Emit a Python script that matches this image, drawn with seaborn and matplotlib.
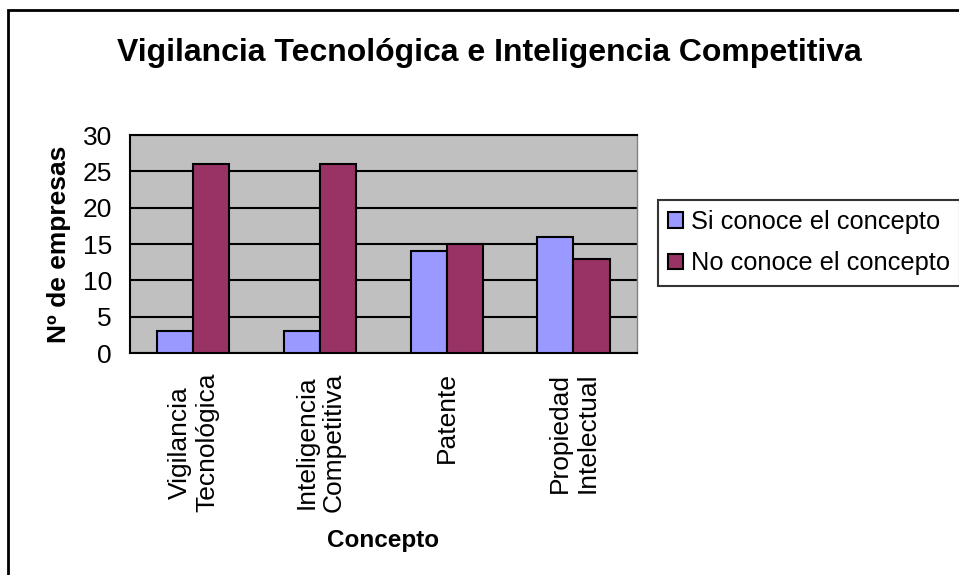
import pandas as pd
import seaborn as sns
import matplotlib.pyplot as plt
from matplotlib.patches import Rectangle

# Data
conceptos = ['Vigilancia\nTecnológica', 'Inteligencia\nCompetitiva', 'Patente', 'Propiedad\nIntelectual']
si_conoce = [3, 3, 14, 16]
no_conoce = [26, 26, 15, 13]
series = ['Si conoce el concepto', 'No conoce el concepto']
colores = ['#9999FF', '#993366']
y_ticks = [0, 5, 10, 15, 20, 25, 30]

sns.set_style('white')
plt.rcParams['font.family'] = ['Liberation Sans', 'DejaVu Sans']
plt.rcParams.update({'text.color': 'black', 'axes.labelcolor': 'black',
                     'xtick.color': 'black', 'ytick.color': 'black'})

# long-form table for seaborn
df = pd.DataFrame({
    'Concepto': conceptos * 2,
    'valor': si_conoce + no_conoce,
    'serie': [series[0]] * len(conceptos) + [series[1]] * len(conceptos),
})

fig = plt.figure(figsize=(9.59, 5.75), dpi=100)
ax = fig.add_axes([0.1356, 0.386, 0.664 - 0.1356, 0.765 - 0.386])
ax.set_facecolor('#C0C0C0')

sns.barplot(data=df, x='Concepto', y='valor', hue='serie', palette=colores, saturation=1,
            width=0.57, edgecolor='black', linewidth=1.5, gap=0, ax=ax, zorder=3)

ax.set_ylim(0, 30)
ax.set_xlim(-0.5, len(conceptos) - 0.5)
ax.set_yticks(y_ticks)
ax.yaxis.grid(True, color='black', linewidth=1.5, zorder=0)
ax.set_axisbelow(True)

# ticks at category boundaries, labels at category centres
ax.set_xticks([i - 0.5 for i in range(len(conceptos) + 1)])
ax.set_xticklabels([])
ax.set_xticks(range(len(conceptos)), minor=True)
ax.set_xticklabels(conceptos, minor=True, rotation=90, fontsize=19,
                   va='top', ha='center', multialignment='center')
ax.tick_params(axis='x', which='minor', length=0, pad=14)
ax.tick_params(axis='x', which='major', direction='out', length=7, width=1.5, color='black')
ax.tick_params(axis='y', direction='out', length=7, width=1.5, color='black',
               labelsize=19, pad=6)

for side in ['left', 'bottom', 'top']:
    ax.spines[side].set_color('black')
    ax.spines[side].set_linewidth(1.5)
ax.spines['right'].set_color('#808080')
ax.spines['right'].set_linewidth(1.0)

ax.set_xlabel('Concepto', fontsize=17.5, fontweight='bold', labelpad=12)
ax.set_ylabel('Nº de empresas', fontsize=19, fontweight='bold', labelpad=8)

ax.legend_.remove()
handles, labels = ax.get_legend_handles_labels()
leg = fig.legend(handles, labels, loc='upper left', bbox_to_anchor=(658 / 959, 1 - 200 / 575),
                 fontsize=18.3, frameon=True, fancybox=False, handlelength=0.57, handleheight=0.57,
                 handletextpad=0.32, borderpad=0.4, labelspacing=0.68, borderaxespad=0)
leg.get_frame().set_edgecolor('black')
leg.get_frame().set_linewidth(1.5)

fig.text(489 / 959, 1 - 53 / 575, 'Vigilancia Tecnológica e Inteligencia Competitiva',
         fontsize=23, fontweight='bold', ha='center', va='center')

# outer chart border (runs off the right and bottom edges)
fig.patches.append(Rectangle((8 / 959, -0.1), 1.2, 1.1 - 10 / 575, transform=fig.transFigure,
                             fill=False, edgecolor='black', linewidth=2))

plt.savefig('out.png', dpi=100)
